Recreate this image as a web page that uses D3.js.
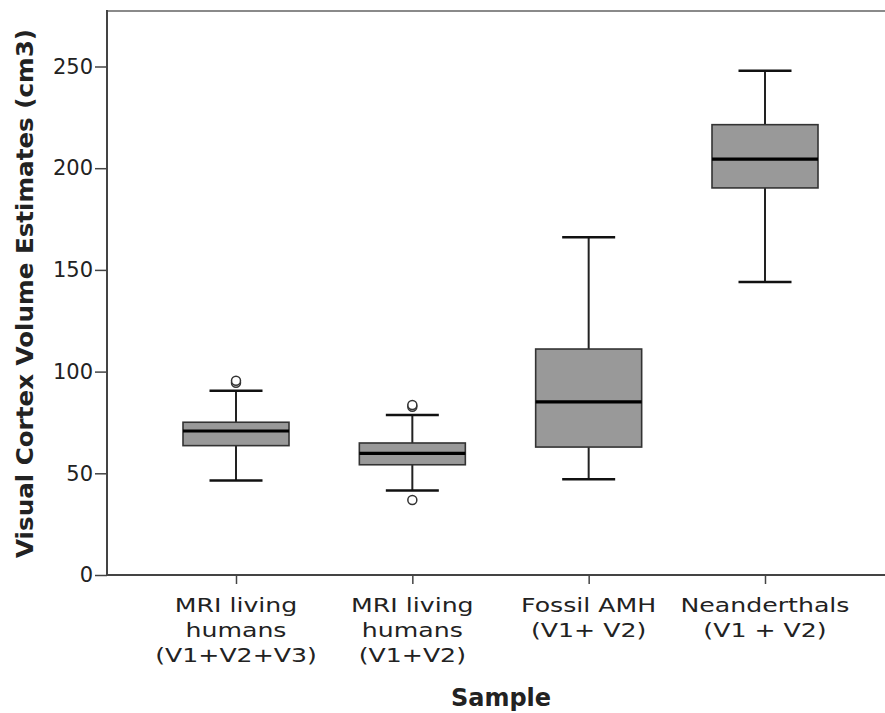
<!DOCTYPE html>
<html>
<head>
<meta charset="utf-8">
<script src="https://cdn.jsdelivr.net/npm/d3@7"></script>
<style>
  html, body { margin: 0; padding: 0; background: #fff; }
  svg { display: block; }
  text { font-family: "DejaVu Sans", sans-serif; fill: #222; }
</style>
</head>
<body>
<svg id="chart" width="885" height="713"></svg>
<script>
// Sample groups (multi-line labels)
const categories = [
  ["MRI living", "humans", "(V1+V2+V3)"],
  ["MRI living", "humans", "(V1+V2)"],
  ["Fossil AMH", "(V1+ V2)"],
  ["Neanderthals", "(V1 + V2)"]
];
// Five-number summaries, cm3
const whiskerLow  = [46.4, 41.6, 47.1, 144.1];
const q1          = [63.6, 54.2, 62.9, 190.3];
const median      = [70.8, 59.8, 85.1, 204.5];
const q3          = [75.1, 64.9, 111.1, 221.4];
const whiskerHigh = [90.6, 78.7, 166.0, 247.9];
// Outlying points per group
const outliers = [[94.5, 95.5], [82.7, 83.6, 36.9], [], []];
const yTicks = [0, 50, 100, 150, 200, 250];

const svg = d3.select("#chart");
const plotLeft = 107, plotBottom = 575, plotTop = 11, plotRight = 885;

const keys = categories.map((c, i) => i);
const x = d3.scalePoint().domain(keys).range([236, 765]);
const y = d3.scaleLinear().domain([0, 250]).range([plotBottom, 66.5]);

const boxW = 106, capW = 53;

// frame: light top rule
svg.append("line")
  .attr("x1", plotLeft).attr("x2", plotRight).attr("y1", plotTop).attr("y2", plotTop)
  .attr("stroke", "#8a8a8a").attr("stroke-width", 2);

// y axis
const yAxis = svg.append("g")
  .attr("transform", `translate(${plotLeft},0)`)
  .call(d3.axisLeft(y).tickValues(yTicks).tickSize(12).tickPadding(2).tickSizeOuter(0));
yAxis.select(".domain").remove();
yAxis.selectAll(".tick line").attr("stroke", "#444").attr("stroke-width", 1.5);
yAxis.selectAll(".tick text").style("font-size", "21px").attr("fill", "#222");
svg.append("line")
  .attr("x1", plotLeft).attr("x2", plotLeft).attr("y1", plotTop - 1).attr("y2", plotBottom)
  .attr("stroke", "#444").attr("stroke-width", 2);

// x axis
const xAxis = svg.append("g")
  .attr("transform", `translate(0,${plotBottom})`)
  .call(d3.axisBottom(x).tickSize(9).tickFormat(""));
xAxis.select(".domain").remove();
xAxis.selectAll(".tick line").attr("stroke", "#444").attr("stroke-width", 1.5);
svg.append("line")
  .attr("x1", plotLeft - 1).attr("x2", plotRight).attr("y1", plotBottom).attr("y2", plotBottom)
  .attr("stroke", "#444").attr("stroke-width", 2);

// category labels (slightly wide-set type)
categories.forEach((lines, i) => {
  const t = svg.append("text")
    .attr("transform", `translate(${x(i)},612) scale(1.26,1)`)
    .attr("text-anchor", "middle")
    .style("font-size", "20px");
  lines.forEach((ln, j) => {
    t.append("tspan").attr("x", 0).attr("dy", j === 0 ? 0 : 25).text(ln);
  });
});

// axis titles
svg.append("text")
  .attr("x", 501).attr("y", 706)
  .attr("text-anchor", "middle")
  .style("font-size", "24px").style("font-weight", "bold")
  .text("Sample");
svg.append("text")
  .attr("transform", `translate(33,${(29 + 558) / 2}) rotate(-90)`)
  .attr("text-anchor", "middle")
  .attr("textLength", 529).attr("lengthAdjust", "spacingAndGlyphs")
  .style("font-size", "23px").style("font-weight", "bold")
  .text("Visual Cortex Volume Estimates (cm3)");

// boxes
const g = svg.append("g");
keys.forEach(i => {
  const cx = x(i);
  // whisker stems
  g.append("line").attr("x1", cx).attr("x2", cx)
    .attr("y1", y(q3[i])).attr("y2", y(whiskerHigh[i]))
    .attr("stroke", "#222").attr("stroke-width", 2);
  g.append("line").attr("x1", cx).attr("x2", cx)
    .attr("y1", y(q1[i])).attr("y2", y(whiskerLow[i]))
    .attr("stroke", "#222").attr("stroke-width", 2);
  // caps
  [whiskerHigh[i], whiskerLow[i]].forEach(v => {
    g.append("line").attr("x1", cx - capW / 2).attr("x2", cx + capW / 2)
      .attr("y1", y(v)).attr("y2", y(v))
      .attr("stroke", "#111").attr("stroke-width", 2.5);
  });
  // box
  g.append("rect")
    .attr("x", cx - boxW / 2).attr("width", boxW)
    .attr("y", y(q3[i])).attr("height", y(q1[i]) - y(q3[i]))
    .attr("fill", "#999999").attr("stroke", "#333").attr("stroke-width", 1.6);
  // median
  g.append("line").attr("x1", cx - boxW / 2).attr("x2", cx + boxW / 2)
    .attr("y1", y(median[i])).attr("y2", y(median[i]))
    .attr("stroke", "#000").attr("stroke-width", 3.2);
  // outliers
  outliers[i].forEach(v => {
    g.append("circle").attr("cx", cx).attr("cy", y(v)).attr("r", 4.5)
      .attr("fill", "#fff").attr("stroke", "#333").attr("stroke-width", 1.5);
  });
});
</script>
</body>
</html>
